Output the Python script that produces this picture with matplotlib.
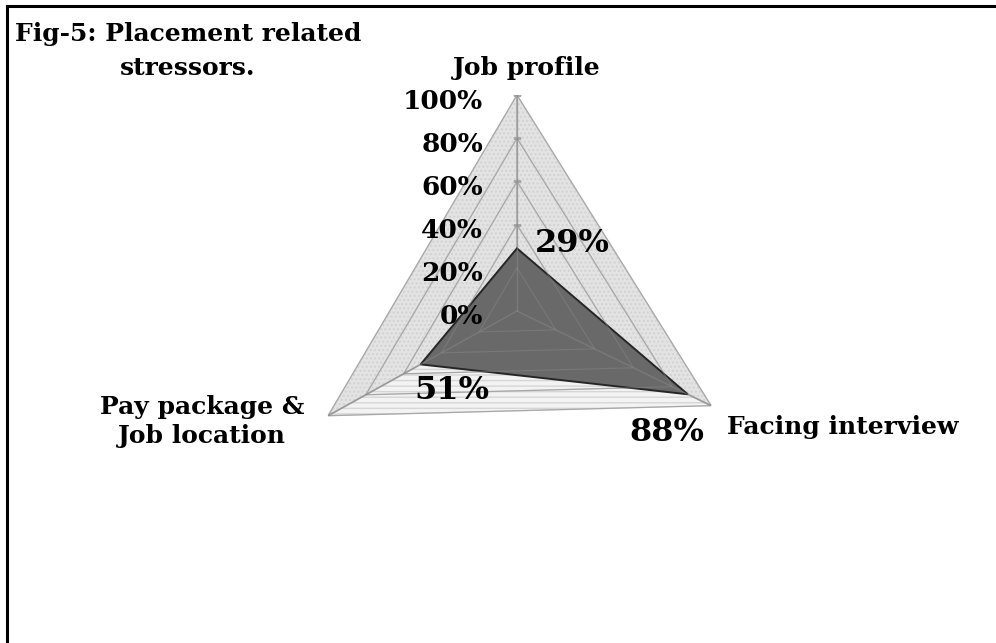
import numpy as np
import matplotlib
matplotlib.use('Agg')
import matplotlib.pyplot as plt
from matplotlib.lines import Line2D

# --- DATA ---
CATEGORIES = ['Job profile', 'Facing interview', 'Pay package &\nJob location']
VALUES = [29, 88, 51]
DATA_LABELS = ['29%', '88%', '51%']
R_TICKS = [0, 20, 40, 60, 80, 100]
R_TICK_LABELS = ['0%', '20%', '40%', '60%', '80%', '100%']
TITLE = 'Fig-5: Placement related\nstressors.'

# --- LAYOUT ---
SPOKE_DEG = [0, 116, 241]          # clockwise from top (slight perspective tilt)
FONT = 'DejaVu Serif'

fig = plt.figure(figsize=(9.96, 6.43), dpi=100)
fig.patch.set_facecolor('white')

# Polar axes centred at about (517, 311) px with a radius of ~216 px
ax = fig.add_axes([0.3022, 0.1804, 0.4337, 0.6719], projection='polar')
ax.set_theta_offset(np.pi / 2)
ax.set_theta_direction(-1)
ax.set_ylim(0, 100)
ax.axis('off')

theta = np.deg2rad(SPOKE_DEG)
theta_closed = np.append(theta, theta[0])

# background triangle (light grey, dotted texture)
ax.fill(theta_closed, [100] * 4, facecolor='#e3e3e3', edgecolor='#d2d2d2',
        hatch='....', linewidth=0, zorder=1)
# lower sector lighter with horizontal stripes
ax.fill([theta[1], theta[2], 0, theta[1]], [100, 100, 0, 100],
        facecolor='#f3f3f3', edgecolor='#d6d6d6', hatch='---',
        linewidth=0, zorder=1)

# grid triangles and spokes
for r in R_TICKS[1:]:
    ax.plot(theta_closed, [r] * 4, color='#c6c6c6', lw=1, zorder=2)
for t in theta:
    ax.plot([t, t], [0, 100], color='#a8a8a8', lw=1.2, zorder=2)
ax.plot([0] * len(R_TICKS[1:]), R_TICKS[1:], linestyle='none', marker='_',
        markersize=6, color='#a8a8a8', zorder=2)

# data polygon
vals_closed = VALUES + [VALUES[0]]
ax.fill(theta_closed, vals_closed, facecolor='#696969', edgecolor='#262626',
        linewidth=1.4, zorder=3)
# faint grid showing through the data area
for r in R_TICKS[1:]:
    ax.plot(theta_closed, [r] * 4, color='#888888', lw=0.8, alpha=0.5, zorder=4)
for t in theta:
    ax.plot([t, t], [0, 100], color='#8a8a8a', lw=1, alpha=0.5, zorder=4)

# radial tick labels along the top spoke
for r, lab in zip(R_TICKS, R_TICK_LABELS):
    ax.annotate(lab, (0, r), xytext=(-34, -6), textcoords='offset pixels',
                ha='right', va='center', fontsize=19, fontweight='bold',
                family=FONT, zorder=6)

# category labels
cat_offsets = [(10, 27), (16, -21), (-126, -6)]
cat_align = ['center', 'left', 'center']
for t, lab, off, ha in zip(theta, CATEGORIES, cat_offsets, cat_align):
    ax.annotate(lab, (t, 100), xytext=off, textcoords='offset pixels',
                ha=ha, va='center', fontsize=18, fontweight='bold',
                family=FONT, linespacing=1.25, multialignment='center',
                annotation_clip=False, zorder=6)

# data labels
val_offsets = [(18, 5), (-21, -38), (31, -26)]
val_align = ['left', 'center', 'center']
for t, v, lab, off, ha in zip(theta, VALUES, DATA_LABELS, val_offsets, val_align):
    ax.annotate(lab, (t, v), xytext=off, textcoords='offset pixels',
                ha=ha, va='center', fontsize=23, fontweight='bold',
                family=FONT, annotation_clip=False, zorder=6)

# title
fig.text(188 / 996, 1 - 51 / 643, TITLE, ha='center', va='center',
         multialignment='center', fontsize=18, fontweight='bold',
         family=FONT, linespacing=1.55)

# frame lines (top and left only visible)
fig.add_artist(Line2D([7 / 996, 1], [1 - 6 / 643, 1 - 6 / 643],
                      transform=fig.transFigure, color='black', lw=2.2))
fig.add_artist(Line2D([7 / 996, 7 / 996], [0, 1 - 6 / 643],
                      transform=fig.transFigure, color='black', lw=2.2))

fig.savefig('out.png', dpi=100, facecolor='white')
